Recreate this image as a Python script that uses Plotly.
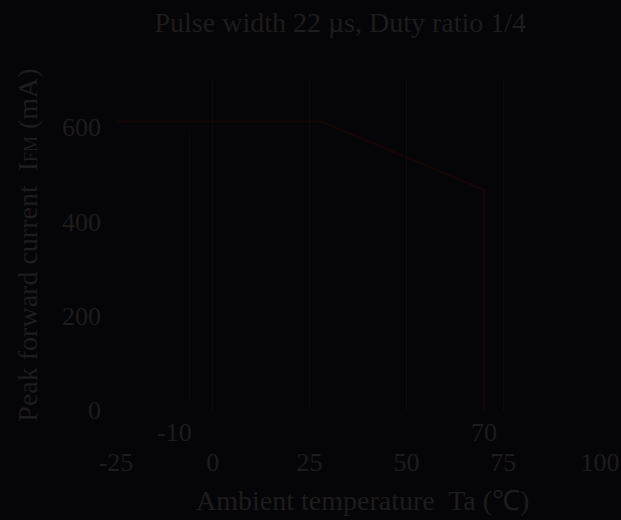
import plotly.graph_objects as go

# Data
temp_c = [-25, 28, 70, 70]
ifm_ma = [612, 612, 467, 0]
x_ticks = [-25, 0, 25, 50, 75, 100]
y_ticks = [0, 200, 400, 600]
marked_temps = [-10, 70]
ref_lines = [-6]

BG = "#050508"
TXT = "#1e1c1c"
LINE = "#150606"
GRID = "#0d0c0c"
FONT = "Liberation Serif"

fig = go.Figure()

for xv in ref_lines:
    fig.add_trace(go.Scatter(x=[xv, xv], y=[15, 590], mode="lines",
                             line=dict(color=GRID, width=1), hoverinfo="skip",
                             showlegend=False))

fig.add_trace(go.Scatter(x=temp_c, y=ifm_ma, mode="lines",
                         line=dict(color=LINE, width=2), showlegend=False))

for t in marked_temps:
    fig.add_annotation(x=t, y=0, xref="x", yref="paper", text=str(t),
                       showarrow=False, yshift=-22, yanchor="middle",
                       font=dict(family=FONT, size=26, color=TXT))

fig.add_annotation(x=0.51, y=-0.273, xref="paper", yref="paper", yanchor="middle",
                   text="Ambient temperature  Ta (℃)", showarrow=False,
                   font=dict(family=FONT, size=28, color=TXT))

fig.update_layout(
    width=621, height=520,
    paper_bgcolor=BG, plot_bgcolor=BG,
    margin=dict(l=116, r=21, t=80, b=110),
    title=dict(text="Pulse width 22 µs, Duty ratio 1/4", x=0.548, xanchor="center",
               y=0.958, yanchor="middle", font=dict(family=FONT, size=28, color=TXT)),
    font=dict(family=FONT, size=26, color=TXT),
)
fig.update_xaxes(range=[-25, 100], tickvals=x_ticks, ticktext=[str(v) for v in x_ticks],
                 showgrid=True, gridcolor=GRID, gridwidth=1, zeroline=False,
                 showline=False, ticks="", ticklabelstandoff=34, automargin=False,
                 tickfont=dict(family=FONT, size=26, color=TXT))
fig.update_yaxes(range=[0, 700], tickvals=y_ticks, ticktext=[str(v) for v in y_ticks],
                 showgrid=False, zeroline=False, showline=False, ticks="",
                 ticklabelstandoff=14, automargin=False,
                 tickfont=dict(family=FONT, size=26, color=TXT),
                 title=dict(text="Peak forward current  I<span style='font-size:18px'>FM</span> (mA)",
                            standoff=16, font=dict(family=FONT, size=28, color=TXT)))

fig.write_html("out.html", config={"displayModeBar": False},
               post_script="document.body.style.margin='0';document.body.style.background='#050508';")
